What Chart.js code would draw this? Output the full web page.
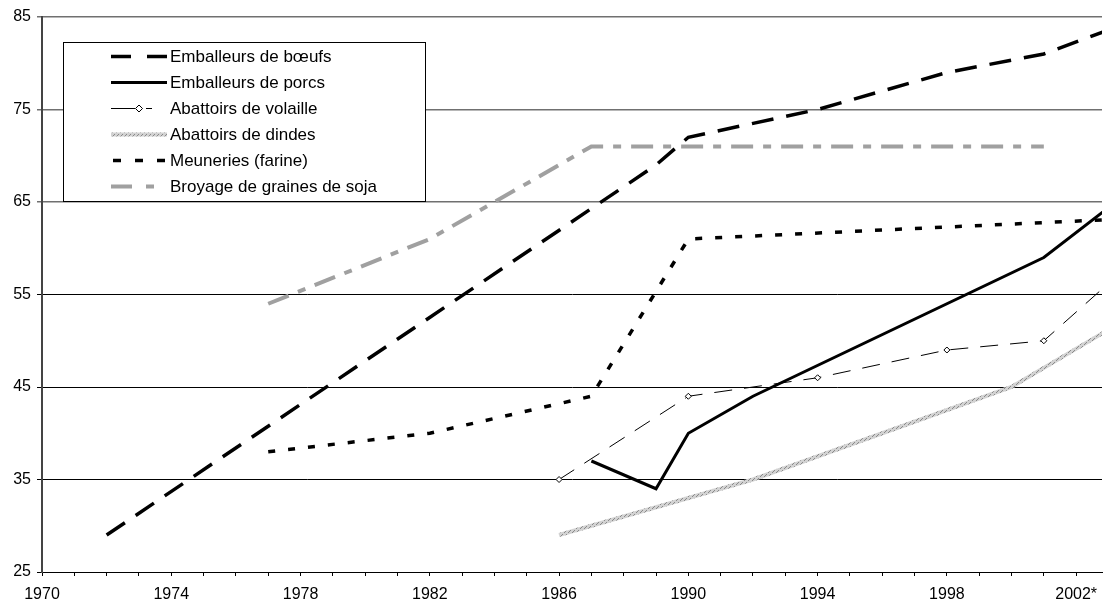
<!DOCTYPE html>
<html>
<head>
<meta charset="utf-8">
<script src="https://cdn.jsdelivr.net/npm/chart.js@4"></script>
<style>
  html, body { margin: 0; padding: 0; background: #fff; }
  #wrap { width: 1107px; height: 602px; }
</style>
</head>
<body>
<div id="wrap"><canvas id="chart"></canvas></div>
<script>
// series (years / values)
const beefYears = [1972, 1989, 1990, 1994, 1998, 2001, 2003];
const beefValues = [29, 69, 72, 75, 79, 81, 83.6];
const porkYears = [1987, 1989, 1990, 1992, 2001, 2003];
const porkValues = [37, 34, 40, 44, 59, 64.4];
const poultryYears = [1986, 1990, 1994, 1998, 2001, 2003];
const poultryValues = [35, 44, 46, 49, 50, 56.2];
const turkeyYears = [1986, 1990, 1992, 1996, 2000, 2003];
const turkeyValues = [29, 33, 35, 40, 45, 51.2];
const flourYears = [1977, 1982, 1987, 1990, 2003];
const flourValues = [38, 40, 44, 61, 63.1];
const soyYears = [1977, 1982, 1987, 2001];
const soyValues = [54, 61, 71, 71];

const labels = ['Emballeurs de bœufs', 'Emballeurs de porcs', 'Abattoirs de volaille',
  'Abattoirs de dindes', 'Meuneries (farine)', 'Broyage de graines de soja'];
const labelYears = [1970, 1974, 1978, 1982, 1986, 1990, 1994, 1998, 2002];
const labelTexts = ['1970', '1974', '1978', '1982', '1986', '1990', '1994', '1998', '2002*'];

const FONT = '"Liberation Sans", Arial, sans-serif';

function pts(xs, ys) { return xs.map((x, i) => ({x: x, y: ys[i]})); }

// hatched grey stroke for the turkey line
function hatch() {
  const c = document.createElement('canvas');
  c.width = 4; c.height = 4;
  const g = c.getContext('2d');
  g.fillStyle = '#d2d2d2';
  g.fillRect(0, 0, 4, 4);
  g.fillStyle = '#8a8a8a';
  g.fillRect(0, 0, 1, 1);
  g.fillRect(2, 2, 1, 1);
  g.fillRect(1, 3, 1, 1);
  return g.createPattern(c, 'repeat');
}

// boxed legend sitting inside the plot, top left
const legendBox = {
  id: 'legendBox',
  afterDatasetsDraw(chart) {
    const ctx = chart.ctx;
    ctx.save();
    ctx.fillStyle = '#fff';
    ctx.fillRect(63, 42, 362, 159);
    ctx.strokeStyle = '#000';
    ctx.lineWidth = 1;
    ctx.strokeRect(63.5, 42.5, 362, 159);
    chart.data.datasets.forEach((ds, i) => {
      const y = 56.5 + i * 26;
      ctx.beginPath();
      ctx.setLineDash(ds.legendDash || ds.borderDash || []);
      ctx.strokeStyle = ds.borderColor;
      ctx.lineWidth = ds.borderWidth;
      ctx.moveTo(111, y);
      ctx.lineTo(167, y);
      ctx.stroke();
      ctx.setLineDash([]);
      if (ds.pointRadius > 0) {
        ctx.beginPath();
        ctx.moveTo(139, y - 3.5); ctx.lineTo(142.5, y); ctx.lineTo(139, y + 3.5); ctx.lineTo(135.5, y);
        ctx.closePath();
        ctx.fillStyle = '#fff';
        ctx.fill();
        ctx.lineWidth = 1;
        ctx.strokeStyle = '#000';
        ctx.stroke();
      }
      ctx.fillStyle = '#000';
      ctx.font = '17px ' + FONT;
      ctx.textBaseline = 'middle';
      ctx.fillText(ds.label, 170, y + 1);
    });
    ctx.restore();
  }
};

new Chart(document.getElementById('chart'), {
  type: 'line',
  data: {
    datasets: [
      {label: labels[0], data: pts(beefYears, beefValues), borderColor: '#000', borderWidth: 3.5,
        borderDash: [22, 13], legendDash: [20, 16], pointRadius: 0},
      {label: labels[1], data: pts(porkYears, porkValues), borderColor: '#000', borderWidth: 3, pointRadius: 0},
      {label: labels[2], data: pts(poultryYears, poultryValues), borderColor: '#000', borderWidth: 1,
        borderDash: [18, 12], legendDash: [24, 11, 6, 20],
        pointRadius: 3, pointStyle: 'rectRot', pointBackgroundColor: '#fff', pointBorderColor: '#000', pointBorderWidth: 1},
      {label: labels[3], data: pts(turkeyYears, turkeyValues), borderColor: hatch(), borderWidth: 4, pointRadius: 0},
      {label: labels[4], data: pts(flourYears, flourValues), borderColor: '#000', borderWidth: 3.5,
        borderDash: [7, 13], legendDash: [0, 2, 8, 12], pointRadius: 0},
      {label: labels[5], data: pts(soyYears, soyValues), borderColor: '#a0a0a0', borderWidth: 4,
        borderDash: [22, 10, 8, 10], legendDash: [21, 14, 8, 20], pointRadius: 0}
    ]
  },
  options: {
    responsive: true,
    maintainAspectRatio: false,
    animation: false,
    layout: {padding: {top: 17, right: 0, left: 0, bottom: 0}},
    plugins: {legend: {display: false}, tooltip: {enabled: false}},
    scales: {
      x: {
        type: 'linear',
        min: 1970,
        max: 2002.8,
        afterFit(s) { s.height = 30; },
        grid: {drawOnChartArea: false, drawTicks: true, tickLength: 4, color: '#000'},
        border: {display: true, color: '#000', width: 1},
        ticks: {
          stepSize: 1,
          includeBounds: false,
          autoSkip: false,
          maxRotation: 0,
          padding: 9,
          color: '#000',
          font: {family: FONT, size: 16},
          callback(v) {
            const k = labelYears.indexOf(v);
            return k >= 0 ? labelTexts[k] : '';
          }
        }
      },
      y: {
        min: 25,
        max: 85,
        afterFit(s) { s.width = 42; },
        grid: {
          color: (c) => (c.tick && c.tick.value >= 65 ? '#707070' : '#000'),
          lineWidth: (c) => (c.tick && c.tick.value >= 65 ? 1.5 : 1),
          tickLength: 5
        },
        border: {display: true, color: '#444', width: 2},
        ticks: {
          stepSize: 10,
          padding: 6,
          color: '#000',
          font: {family: FONT, size: 16}
        }
      }
    }
  },
  plugins: [legendBox]
});
</script>
</body>
</html>
